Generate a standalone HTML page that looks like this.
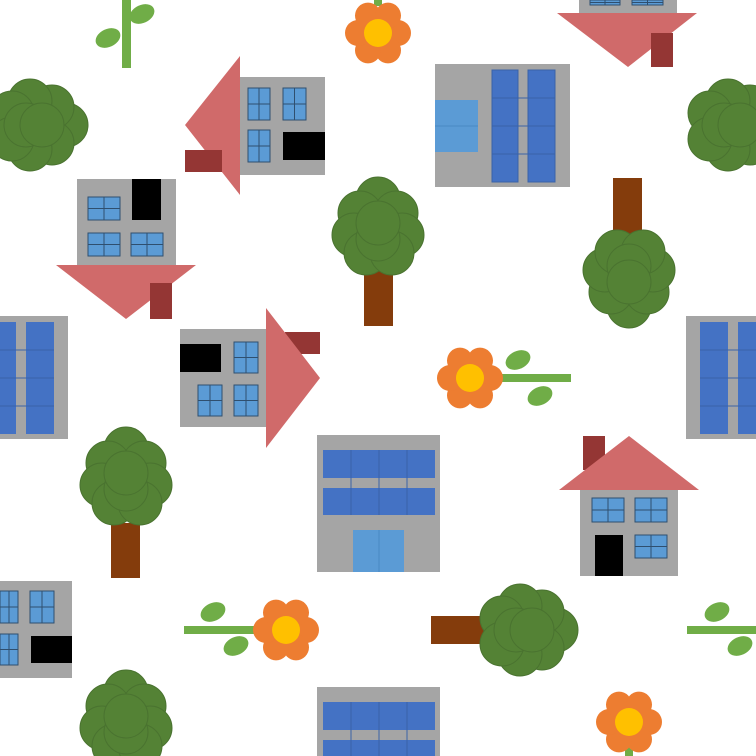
<!DOCTYPE html>
<html><head><meta charset="utf-8"><style>html,body{margin:0;padding:0;background:#fff}svg{display:block}</style></head>
<body>
<svg id="s" width="756" height="756" viewBox="0 0 756 756" xmlns="http://www.w3.org/2000/svg">
<g stroke="none">
 <polygon points="240,56 240,195 185,125" fill="#d06a6a"/>
 <rect x="185" y="150" width="37" height="22" fill="#943634"/>
 <rect x="240" y="77" width="85" height="98" fill="#a5a5a5"/>
 <rect x="283" y="132" width="42" height="28" fill="#000"/>
 <rect x="579" y="0" width="98" height="13" fill="#a5a5a5"/>
 <polygon points="557,13 697,13 628,67" fill="#d06a6a"/>
 <rect x="651" y="33" width="22" height="34" fill="#943634"/>
 <rect x="77" y="179" width="99" height="86" fill="#a5a5a5"/>
 <rect x="132" y="179" width="29" height="41" fill="#000"/>
 <polygon points="56,265 196,265 126,319" fill="#d06a6a"/>
 <rect x="150" y="283" width="22" height="36" fill="#943634"/>
 <rect x="180" y="329" width="86" height="98" fill="#a5a5a5"/>
 <rect x="285" y="332" width="35" height="22" fill="#943634"/>
 <polygon points="266,308 266,448 320,378" fill="#d06a6a"/>
 <rect x="180" y="344" width="41" height="28" fill="#000"/>
 <rect x="583" y="436" width="22" height="34" fill="#943634"/>
 <polygon points="559,490 699,490 629,436" fill="#d06a6a"/>
 <rect x="580" y="490" width="98" height="86" fill="#a5a5a5"/>
 <rect x="595" y="535" width="28" height="41" fill="#000"/>
 <rect x="0" y="581" width="72" height="97" fill="#a5a5a5"/>
 <rect x="31" y="636" width="41" height="27" fill="#000"/>
</g>
<g>
 <rect x="435" y="64" width="135" height="123" fill="#a5a5a5"/>
 <rect x="492" y="70" width="26" height="112" fill="#4472c4" stroke="#3a62a8" stroke-width="1"/>
 <rect x="528" y="70" width="27" height="112" fill="#4472c4" stroke="#3a62a8" stroke-width="1"/>
 <rect x="435" y="100" width="43" height="52" fill="#5b9bd5"/>
 <rect x="0" y="316" width="68" height="123" fill="#a5a5a5"/>
 <rect x="0" y="322" width="16" height="112" fill="#4472c4"/>
 <rect x="26" y="322" width="28" height="112" fill="#4472c4"/>
 <rect x="686" y="316" width="70" height="123" fill="#a5a5a5"/>
 <rect x="700" y="322" width="28" height="112" fill="#4472c4"/>
 <rect x="738" y="322" width="18" height="112" fill="#4472c4"/>
 <rect x="317" y="435" width="123" height="137" fill="#a5a5a5"/>
 <rect x="323" y="450" width="112" height="28" fill="#4472c4"/>
 <rect x="323" y="488" width="112" height="27" fill="#4472c4"/>
 <rect x="353" y="530" width="51" height="42" fill="#5b9bd5"/>
 <rect x="317" y="687" width="123" height="69" fill="#a5a5a5"/>
 <rect x="323" y="702" width="112" height="28" fill="#4472c4"/>
 <rect x="323" y="740" width="112" height="16" fill="#4472c4"/>
 <g stroke="#3a62a8" stroke-width="1">
  <line x1="492" y1="98" x2="555" y2="98"/><line x1="492" y1="126" x2="555" y2="126"/><line x1="492" y1="154" x2="555" y2="154"/>
  <line x1="0" y1="350" x2="54" y2="350"/><line x1="0" y1="378" x2="54" y2="378"/><line x1="0" y1="406" x2="54" y2="406"/>
  <line x1="700" y1="350" x2="756" y2="350"/><line x1="700" y1="378" x2="756" y2="378"/><line x1="700" y1="406" x2="756" y2="406"/>
  <line x1="351" y1="450" x2="351" y2="515"/><line x1="379" y1="450" x2="379" y2="515"/><line x1="407" y1="450" x2="407" y2="515"/>
  <line x1="351" y1="702" x2="351" y2="756"/><line x1="379" y1="702" x2="379" y2="756"/><line x1="407" y1="702" x2="407" y2="756"/>
 </g>
 <line x1="435" y1="126" x2="478" y2="126" stroke="#4a8ac4"/>
 <line x1="379" y1="530" x2="379" y2="572" stroke="#4a8ac4"/>
</g>
<g id="dyn"></g>
</svg>
<script>
const NS='http://www.w3.org/2000/svg';
const root=document.getElementById('dyn');
function mk(tag,attrs,parent){const e=document.createElementNS(NS,tag);for(const k in attrs)e.setAttribute(k,attrs[k]);(parent||root).appendChild(e);return e;}
const windows=[[248,88,22,32],[283,88,23,32],[248,130,22,32],[590,0,30,5],[632,0,31,5],[88,197,32,23],[88,233,32,23],[131,233,32,23],[234,342,24,31],[198,385,24,31],[234,385,24,31],[592,498,32,24],[635,498,32,24],[635,535,32,23],[0,591,18,32],[30,591,24,32],[0,634,18,31]];
windows.forEach(w=>{
 const g=mk('g',{});
 
 
 mk('rect',{x:w[0],y:w[1],width:w[2],height:w[3],fill:'#5b9bd5',stroke:'#2f4f6f','stroke-width':1},g);
 mk('line',{x1:w[0]+w[2]/2,y1:w[1],x2:w[0]+w[2]/2,y2:w[1]+w[3],stroke:'#2f4f6f'},g);
 mk('line',{x1:w[0],y1:w[1]+w[3]/2,x2:w[0]+w[2],y2:w[1]+w[3]/2,stroke:'#2f4f6f'},g);
});
const trees=[[364,270,29,56,378,235],[613,178,29,57,629,270],[111,523,29,55,126,485],[-40,0,0,0,126,728]];
const bushes=[[30,125],[728,125]];
const sideBush=[431,616,59,28,520,630];
const offs=[[0,-36],[-18,-22],[18,-22],[-24,0],[24,0],[-12,18],[14,18],[0,4],[0,-12]];
function canopy(cx,cy,flip,name){
 const g=mk('g',{});
 
 
 offs.forEach(o=>mk('circle',{cx:cx+o[0],cy:cy+o[1]*flip,r:22,fill:'#548235',stroke:'#4a7330','stroke-width':1},g));
}
trees.forEach((t,i)=>{
 if(t[2]){const r=mk('rect',{x:t[0],y:t[1],width:t[2],height:t[3],fill:'#843c0c'});
 
 }
 canopy(t[4],t[5],i==1?-1:1,'tree-canopy');
});
bushes.forEach(b=>{
 const g=mk('g',{});
 
 
 offs.forEach(o=>mk('circle',{cx:b[0]-o[1],cy:b[1]+o[0],r:22,fill:'#548235',stroke:'#4a7330'},g));
});
{const r=mk('rect',{x:sideBush[0],y:sideBush[1],width:sideBush[2],height:sideBush[3],fill:'#843c0c'});


const g=mk('g',{});


offs.forEach(o=>mk('circle',{cx:sideBush[4]-o[1],cy:sideBush[5]+o[0],r:22,fill:'#548235',stroke:'#4a7330'},g));}
const stems=[[122,0,9,68,[[108,38],[142,14]]],[498,374,73,8,[[518,360],[540,396]]],[184,626,74,8,[[213,612],[236,646]]],[687,626,69,8,[[717,612],[740,646]]],[374,0,8,6,[]],[625,740,8,16,[]]];
stems.forEach(s=>{
 const g=mk('g',{});
 
 
 mk('rect',{x:s[0],y:s[1],width:s[2],height:s[3],fill:'#70ad47'},g);
 s[4].forEach(l=>mk('ellipse',{cx:l[0],cy:l[1],rx:13,ry:9,fill:'#70ad47',transform:`rotate(-25 ${l[0]} ${l[1]})`},g));
});
const flowers=[[378,33],[470,378],[286,630],[629,722]];
flowers.forEach(f=>{
 const g=mk('g',{});
 
 
 for(let k=0;k<6;k++){const a=k*Math.PI/3;mk('circle',{cx:f[0]+20*Math.cos(a),cy:f[1]+20*Math.sin(a),r:13,fill:'#ed7d31'},g);}
 mk('circle',{cx:f[0],cy:f[1],r:14,fill:'#ffc000'},g);
});
</script>
</body></html>
